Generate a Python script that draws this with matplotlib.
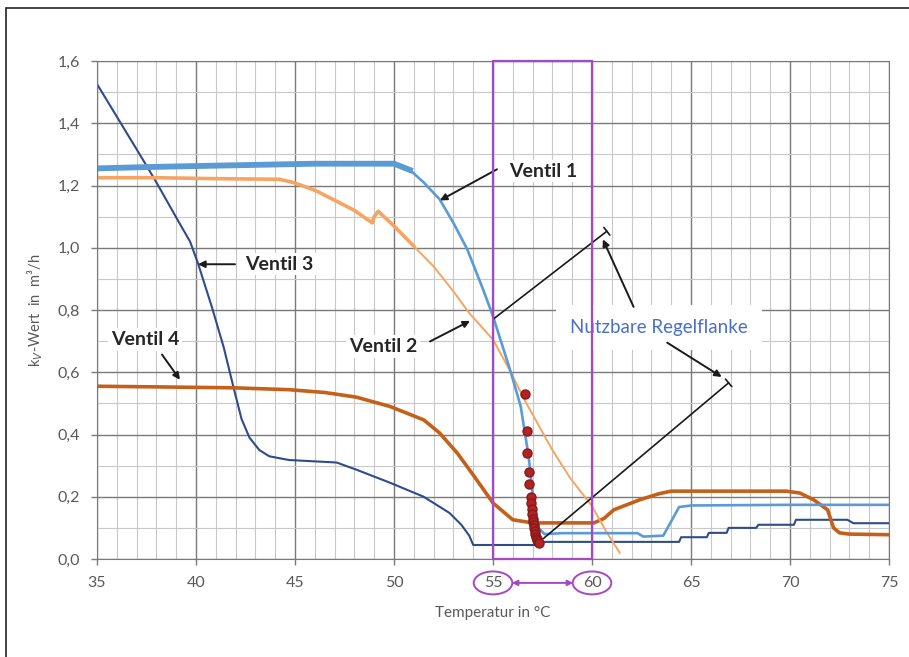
import matplotlib
matplotlib.use("Agg")
import matplotlib.pyplot as plt
from matplotlib.patches import Rectangle, Ellipse
from matplotlib.transforms import blended_transform_factory

plt.rcParams['font.family'] = ['Lato', 'DejaVu Sans']

# Ventil 1 (hellblau)
v1_x = [35, 38, 42, 46, 50, 50.8, 51.5, 52.3, 53.0, 53.7, 54.5, 55.0, 55.5, 55.9, 56.4, 56.8,
        57.0, 57.3, 57.6, 58.5, 62.3, 62.6, 63.6, 64.4, 65.0, 70.0, 75.0]
v1_y = [1.255, 1.26, 1.265, 1.27, 1.27, 1.25, 1.21, 1.156, 1.08, 0.995, 0.866, 0.78, 0.68, 0.60, 0.49, 0.33,
        0.21, 0.10, 0.08, 0.083, 0.083, 0.072, 0.075, 0.167, 0.172, 0.174, 0.174]

# Ventil 2 (hellorange)
v2_x = [35, 38, 41, 44.2, 44.9, 46, 46.9, 48, 48.9, 49.0, 49.2, 50, 51, 52, 53, 53.8, 55, 55.9,
        56.6, 57.3, 58.0, 58.9, 60.0, 60.7, 61.4]
v2_y = [1.225, 1.225, 1.222, 1.22, 1.21, 1.185, 1.156, 1.12, 1.08, 1.10, 1.117, 1.07, 1.005, 0.94, 0.86,
        0.79, 0.705, 0.60, 0.51, 0.43, 0.35, 0.26, 0.17, 0.09, 0.02]

# Ventil 3 (dunkelblau)
v3_x = [35, 37.3, 38.0, 39.2, 39.7, 40.1, 40.8, 41.4, 41.9, 42.3, 42.7, 43.2, 43.7, 44.7, 47.1, 48.1,
        49.8, 51.5, 52.8, 53.4, 53.8, 54.0, 57.4, 57.6, 64.4, 64.5, 65.8, 65.9, 66.8, 66.9, 68.3, 68.4,
        70.2, 70.3, 72.9, 73.2, 75]
v3_y = [1.526, 1.285, 1.21, 1.075, 1.02, 0.95, 0.81, 0.68, 0.55, 0.45, 0.39, 0.35, 0.33, 0.318, 0.31, 0.287,
        0.245, 0.2, 0.148, 0.11, 0.075, 0.045, 0.045, 0.055, 0.055, 0.07, 0.07, 0.084, 0.084, 0.1, 0.1, 0.11,
        0.11, 0.126, 0.126, 0.115, 0.115]

# Ventil 4 (braun)
v4_x = [35, 38, 41.9, 44.7, 46.5, 48.1, 49.8, 51.5, 52.3, 53.2, 54.0, 55.0, 56.0, 57.0, 60.1, 60.6,
        61.1, 62.4, 63.4, 64, 69.8, 70.5, 71.2, 71.9, 72.2, 72.5, 73, 75]
v4_y = [0.555, 0.553, 0.55, 0.544, 0.535, 0.52, 0.49, 0.447, 0.405, 0.34, 0.27, 0.18, 0.126, 0.116, 0.116,
        0.13, 0.158, 0.19, 0.21, 0.218, 0.218, 0.212, 0.19, 0.158, 0.1, 0.084, 0.08, 0.078]

# Messpunkte (rot)
dots_x = [56.6, 56.7, 56.7, 56.8, 56.8, 56.9, 56.9, 56.95, 56.95, 57.0, 57.0, 57.05, 57.05, 57.1, 57.1,
          57.15, 57.2, 57.2, 57.25, 57.3]
dots_y = [0.53, 0.41, 0.34, 0.28, 0.24, 0.20, 0.18, 0.16, 0.145, 0.13, 0.12, 0.11, 0.10, 0.09, 0.08,
          0.07, 0.065, 0.06, 0.055, 0.05]

x_ticks = [35, 40, 45, 50, 55, 60, 65, 70, 75]
y_ticks = [0.0, 0.2, 0.4, 0.6, 0.8, 1.0, 1.2, 1.4, 1.6]
y_ticklabels = ['0,0', '0,2', '0,4', '0,6', '0,8', '1,0', '1,2', '1,4', '1,6']

c_v1 = '#5B9BD5'
c_v2 = '#F6A462'
c_v3 = '#2F4B8A'
c_v4 = '#C5601A'
c_mag = '#A648C4'
c_txt = '#595959'

fig = plt.figure(figsize=(9.09, 6.57), dpi=100)
ax = fig.add_axes([97 / 909, 1 - 559 / 657, 792 / 909, 498 / 657])

# outer frame (only top and left edge visible)
fig.patches.append(Rectangle((6 / 909, -0.1), 1.2, 1 - 8 / 657 + 0.1, transform=fig.transFigure,
                             fill=False, edgecolor='#222222', lw=1.2))

ax.set_xlim(35, 75)
ax.set_ylim(0, 1.6)
ax.set_xticks(x_ticks)
ax.set_xticks(range(35, 76), minor=True)
ax.set_yticks(y_ticks)
ax.set_yticklabels(y_ticklabels)
ax.set_yticks([i / 10 for i in range(17)], minor=True)
ax.grid(which='major', color='#7a7a7a', lw=1.0)
ax.grid(which='minor', color='#c8c8c8', lw=0.8)
ax.set_axisbelow(True)
ax.tick_params(which='major', length=4, width=1, color='#7a7a7a', labelsize=11.5, labelcolor=c_txt)
ax.tick_params(axis='x', which='major', pad=8)
ax.tick_params(axis='y', which='major', pad=8)
ax.tick_params(which='minor', length=0)
for s in ax.spines.values():
    s.set_color('#7a7a7a')

ax.set_xlabel('Temperatur in °C', fontsize=11, color=c_txt, labelpad=12)
ax.set_ylabel('k$_V$-Wert  in  m³/h', fontsize=10.5, color=c_txt, labelpad=9)

# curves
ax.plot(v3_x, v3_y, color=c_v3, lw=1.5)
ax.plot(v4_x, v4_y, color=c_v4, lw=2.6)
ax.plot(v2_x[:13], v2_y[:13], color=c_v2, lw=2.6)
ax.plot(v2_x[12:], v2_y[12:], color=c_v2, lw=1.4)
ax.plot(v1_x[:6], v1_y[:6], color=c_v1, lw=4.2)
ax.plot(v1_x[5:], v1_y[5:], color=c_v1, lw=1.9)
ax.plot(dots_x, dots_y, 'o', color='#B02424', markeredgecolor='#8A1A1A', markersize=6.5, zorder=5)

# usable range box
ax.add_patch(Rectangle((55, 0), 5, 1.6, fill=False, edgecolor=c_mag, lw=1.6, zorder=6, clip_on=False))
bt = blended_transform_factory(ax.transData, ax.transAxes)
for xc in (55, 60):
    ax.add_patch(Ellipse((xc, -0.048), 1.95, 0.046, transform=bt, fill=False,
                         edgecolor=c_mag, lw=1.4, clip_on=False))
ax.annotate('', xy=(59.05, -0.048), xytext=(55.95, -0.048), xycoords=bt, textcoords=bt,
            arrowprops=dict(arrowstyle='<|-|>', color=c_mag, lw=1.4, mutation_scale=8,
                            shrinkA=0, shrinkB=0))

# tangent lines
ax.annotate('', xy=(60.75, 1.053), xytext=(55.0, 0.77),
            arrowprops=dict(arrowstyle='-[, widthB=0.35, lengthB=0', color='#1a1a1a', lw=1.2,
                            shrinkA=0, shrinkB=0))
ax.annotate('', xy=(66.9, 0.566), xytext=(57.25, 0.05),
            arrowprops=dict(arrowstyle='-[, widthB=0.35, lengthB=0', color='#1a1a1a', lw=1.2,
                            shrinkA=0, shrinkB=0))

# labels
lab = dict(fontsize=14, fontweight='bold', color='#262626', ha='center', va='center',
           bbox=dict(facecolor='white', edgecolor='none', pad=2))
arr = dict(arrowstyle='-|>', color='#1a1a1a', lw=1.4, mutation_scale=10, shrinkA=0, shrinkB=0)

ax.text(57.55, 1.246, 'Ventil 1', **lab)
ax.annotate('', xy=(52.32, 1.152), xytext=(55.2, 1.252), arrowprops=arr)

ax.text(42.5, 0.947, 'Ventil 3', **dict(lab, ha='left'))
ax.annotate('', xy=(40.1, 0.947), xytext=(41.97, 0.947), arrowprops=arr)

ax.text(49.44, 0.683, 'Ventil 2', **lab)
ax.annotate('', xy=(53.84, 0.765), xytext=(51.82, 0.699), arrowprops=arr)

ax.text(37.42, 0.705, 'Ventil 4', **lab)
ax.annotate('', xy=(39.19, 0.576), xytext=(38.28, 0.657), arrowprops=arr)

ax.text(63.38, 0.744, 'Nutzbare Regelflanke', fontsize=13.5, color='#4A6FC8', ha='center', va='center',
        bbox=dict(facecolor='white', edgecolor='none', pad=10))
ax.annotate('', xy=(60.55, 1.027), xytext=(62.1, 0.81), arrowprops=arr)
ax.annotate('', xy=(66.55, 0.585), xytext=(63.8, 0.695), arrowprops=arr)

fig.savefig('out.png', dpi=100)
